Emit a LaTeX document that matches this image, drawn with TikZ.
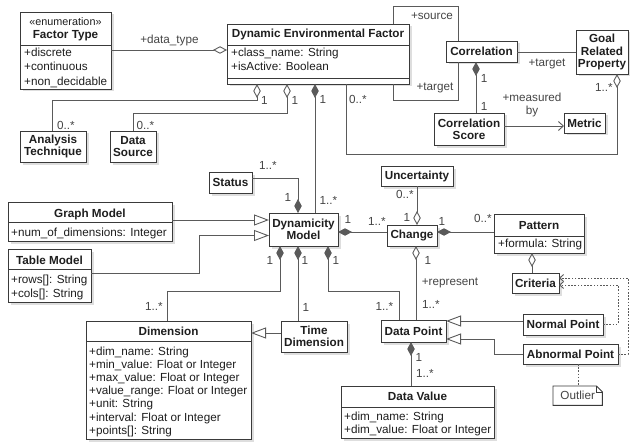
\documentclass[tikz,border=0pt]{standalone}
\usepackage{fontspec}
\setmainfont{Liberation Sans}
\usetikzlibrary{arrows.meta,shadows,calc}
\definecolor{bc}{HTML}{3A3A3A}
\definecolor{lc}{HTML}{5A5A5A}
\definecolor{tc}{HTML}{1E1E1E}
\definecolor{mc}{HTML}{444444}
\newcommand\fsz{\fontsize{11.7}{12.3}\selectfont}
\newcommand\umlbox[6]{\node[cls,anchor=north west,minimum width={(#4-#2)*1pt},minimum height={(#5-#3)*1pt}] (#1) at (#2,#3) {#6};}
\begin{document}
\begin{tikzpicture}[x=1pt,y=-1pt,
  cls/.style={draw=bc, fill=white, line width=0.9pt, inner sep=1pt, outer sep=0pt, align=center, font=\fsz\bfseries, text=tc,
    drop shadow={shadow xshift=2.5pt, shadow yshift=-2.5pt, fill=black!13, opacity=1}},
  sep/.style={draw=bc, line width=0.9pt},
  ln/.style={draw=lc, line width=0.9pt},
  att/.style={anchor=base west, inner sep=0pt, text=tc, font=\fsz},
  ttl/.style={anchor=base, inner sep=0pt, text=tc, font=\fsz\bfseries},
  mult/.style={inner sep=0pt, text=mc, font=\fsz},
  sfd/.style={arrows={Diamond[length=14pt,width=7.5pt]-}},
  sod/.style={arrows={Diamond[fill=white,length=14pt,width=7.5pt]-}},
  eod/.style={arrows={-Diamond[fill=white,length=14pt,width=7.5pt]}},
  efd/.style={arrows={-Diamond[length=14pt,width=7.5pt]}},
  gen/.style={arrows={-Triangle[fill=white,length=15pt,width=11pt]}},
  nav/.style={arrows={-Straight Barb[length=5pt,width=9pt]}},
  dep/.style={dash pattern=on 1.6pt off 1.6pt, arrows={-Straight Barb[length=4pt,width=7pt]}}
]
\useasboundingbox (0,0) rectangle (630,444);

% ---------- classes ----------
\umlbox{ft}{20}{12}{111}{89}{}
\node[anchor=base, inner sep=0pt, text=tc, font=\fontsize{10.8}{12}\selectfont] (ftst) at (65.5,26) {«enumeration»};
\node[ttl] (ftt) at (65.5,39) {Factor Type};
\draw[sep] (ft.west |- 0,45) -- (ft.east |- 0,45);
\foreach \t [count=\i] in {+discrete,+continuous,+non\_decidable}
  \node[att] (fta\i) at (24,{57+(\i-1)*14}) {\t};

\umlbox{def}{227}{24}{409}{84}{}
\node[ttl] (deft) at (318,38) {Dynamic Environmental Factor};
\draw[sep] (def.west |- 0,45) -- (def.east |- 0,45);
\draw[sep] (def.west |- 0,78) -- (def.east |- 0,78);
\foreach \t [count=\i] in {+class\_name: String,+isActive: Boolean}
  \node[att] (defa\i) at (231,{57+(\i-1)*14}) {\t};

\umlbox{at}{20}{131}{86}{162}{Analysis\\Technique}
\umlbox{ds}{110}{131}{156}{162}{Data\\Source}
\umlbox{corr}{446}{41}{517}{62}{Correlation}
\umlbox{grp}{576}{30}{628}{74}{Goal\\Related\\Property}
\umlbox{cs}{434}{113}{504}{145}{Correlation\\Score}
\umlbox{met}{564}{113}{605}{133}{Metric}
\umlbox{st}{209}{172}{252}{193}{Status}

\umlbox{gm}{8}{202}{172}{241}{}
\node[ttl] (gmt) at (90,217) {Graph Model};
\draw[sep] (gm.west |- 0,222) -- (gm.east |- 0,222);
\node[att] (gma1) at (11,236) {+num\_of\_dimensions: Integer};

\umlbox{tm}{8}{249}{91}{302}{}
\node[ttl] (tmt) at (49.5,264) {Table Model};
\draw[sep] (tm.west |- 0,269) -- (tm.east |- 0,269);
\foreach \t [count=\i] in {+rows[]: String,+cols[]: String}
  \node[att] (tma\i) at (11,{283+(\i-1)*14}) {\t};

\umlbox{dm}{269}{213}{338}{246}{Dynamicity\\Model}
\umlbox{unc}{381}{166}{453}{186}{Uncertainty}
\umlbox{chg}{387}{225}{437}{246}{Change}

\umlbox{pat}{494}{214}{584}{253}{}
\node[ttl] (patt) at (539,229) {Pattern};
\draw[sep] (pat.west |- 0,236) -- (pat.east |- 0,236);
\node[att] (pata1) at (498,247) {+formula: String};

\umlbox{cri}{512}{273}{559}{293}{Criteria}

\umlbox{dim}{86}{321}{251}{439}{}
\node[ttl] (dimt) at (168.5,335) {Dimension};
\draw[sep] (dim.west |- 0,341) -- (dim.east |- 0,341);
\foreach \t [count=\i] in {+dim\_name: String,+min\_value: Float or Integer,+max\_value: Float or Integer,+value\_range: Float or Integer,+unit: String,+interval: Float or Integer,+points[]: String}
  \node[att] (dima\i) at (89,{355+(\i-1)*13.2}) {\t};

\umlbox{td}{281}{321}{347}{352}{Time\\Dimension}
\umlbox{dp}{381}{320}{446}{342}{Data Point}
\umlbox{np}{523}{314}{603}{335}{Normal Point}
\umlbox{ap}{523}{344}{618}{364}{Abnormal Point}

\umlbox{dv}{341}{386}{494}{438}{}
\node[ttl] (dvt) at (417.5,400) {Data Value};
\draw[sep] (dv.west |- 0,407) -- (dv.east |- 0,407);
\foreach \t [count=\i] in {+dim\_name: String,+dim\_value: Float or Integer}
  \node[att] (dva\i) at (344,{420+(\i-1)*13}) {\t};

% note
\node[anchor=north west, inner sep=0pt, minimum width=49pt, minimum height=19pt] (note) at (553,386) {};
\draw[sep, fill=white] (note.north west) -- ($(note.north east)+(-6,0)$) -- ($(note.north east)+(0,6)$) -- (note.south east) -- (note.south west) -- cycle;
\draw[sep] ($(note.north east)+(-6,0)$) -- ($(note.north east)+(-6,6)$) -- ($(note.north east)+(0,6)$);
\node[inner sep=0pt, text=mc, font=\fsz] (notet) at (note.center) {Outlier};

% ---------- connectors ----------
\draw[ln,eod] (ft.east |- 0,50) -- (def.west |- 0,50);
\draw[ln,sod] (def.south -| 257,0) -- (257,100) -- (52,100) -- (at.north -| 52,0);
\draw[ln,sod] (def.south -| 287,0) -- (287,113) -- (133,113) -- (ds.north -| 133,0);
\draw[ln,sfd] (def.south -| 315,0) -- (dm.north -| 315,0);
\draw[ln,eod] (def.south -| 346,0) -- (346,154) -- (617,154) -- (grp.south -| 617,0);
\draw[ln] (def.north -| 393,0) -- (393,6) -- (458,6) -- (corr.north -| 458,0);
\draw[ln] (def.south -| 393,0) -- (393,100) -- (458,100) -- (corr.south -| 458,0);
\draw[ln] (corr.east |- 0,52) -- (grp.west |- 0,52);
\draw[ln,sfd] (corr.south -| 476,0) -- (cs.north -| 476,0);
\draw[ln,nav] (cs.east |- 0,126) -- (met.west |- 0,126);
\draw[ln,efd] (st.east |- 0,178) -- (298,178) -- (dm.north -| 298,0);
\draw[ln,gen] (gm.east |- 0,220) -- (dm.west |- 0,220);
\draw[ln,gen] (tm.east |- 0,273) -- (199,273) -- (199,235.5) -- (dm.west |- 0,235.5);
\draw[ln,sfd] (dm.south -| 280,0) -- (280,291) -- (167,291) -- (dim.north -| 167,0);
\draw[ln,sfd] (dm.south -| 298,0) -- (td.north -| 298,0);
\draw[ln,sfd] (dm.south -| 328,0) -- (328,291) -- (399,291) -- (dp.north -| 399,0);
\draw[ln,sfd] (dm.east |- 0,232) -- (chg.west |- 0,232);
\draw[ln,eod] (unc.south -| 417,0) -- (chg.north -| 417,0);
\draw[ln,sfd] (chg.east |- 0,232) -- (pat.west |- 0,232);
\draw[ln,sod] (pat.south -| 532,0) -- (cri.north -| 532,0);
\draw[ln,sod] (chg.south -| 416,0) -- (dp.north -| 416,0);
\draw[ln,gen] (np.west |- 0,321) -- (dp.east |- 0,321);
\draw[ln,gen] (ap.west |- 0,354) -- (494,354) -- (494,339) -- (dp.east |- 0,339);
\draw[ln,dep] (np.east |- 0,324) -- (618,324) -- (618,285) -- (cri.east |- 0,285);
\draw[ln,dep] (ap.east |- 0,354) -- (628,354) -- (628,278) -- (cri.east |- 0,278);
\draw[ln,dash pattern=on 1.6pt off 1.6pt] (ap.south -| 578,0) -- (note.north -| 578,0);
\draw[ln,sfd] (dp.south -| 411,0) -- (dv.north -| 411,0);
\draw[ln,gen] (td.west |- 0,333) -- (dim.east |- 0,333);

% ---------- labels ----------
\node[mult] (l1) at (169.5,40) {+data\_type};
\node[mult] (l2) at (264.5,100) {1};
\node[mult] (l3) at (295,100) {1};
\node[mult] (l4) at (66,125) {0..*};
\node[mult] (l5) at (145.5,125) {0..*};
\node[mult] (l6) at (323,99) {1};
\node[mult] (l7) at (358,99) {0..*};
\node[mult] (l8) at (432,16) {+source};
\node[mult] (l9) at (435,88) {+target};
\node[mult] (l10) at (547,64) {+target};
\node[mult] (l11) at (484,78) {1};
\node[mult] (l12) at (484,106) {1};
\node[mult, align=center] (l13) at (532,105) {+measured\\by};
\node[mult] (l14) at (604,87) {1..*};
\node[mult] (l15) at (328.5,200.5) {1..*};
\node[mult] (l16) at (268,165) {1..*};
\node[mult] (l17) at (288,197) {1};
\node[mult] (l18) at (270,260) {1};
\node[mult] (l19) at (305,260) {1};
\node[mult] (l20) at (336,260) {1};
\node[mult] (l21) at (154,306) {1..*};
\node[mult] (l22) at (306,307) {1};
\node[mult] (l23) at (384.5,306) {1..*};
\node[mult] (l24) at (348,219) {1};
\node[mult] (l25) at (377,221) {1..*};
\node[mult] (l26) at (405,194) {0..*};
\node[mult] (l27) at (407,217) {1};
\node[mult] (l28) at (442,221) {1};
\node[mult] (l29) at (483,218) {0..*};
\node[mult] (l30) at (428,260) {1};
\node[mult] (l31) at (450,283) {+represent};
\node[mult] (l32) at (431,304) {1..*};
\node[mult] (l33) at (419,357) {1};
\node[mult] (l34) at (425,373) {1..*};
\end{tikzpicture}
\end{document}
